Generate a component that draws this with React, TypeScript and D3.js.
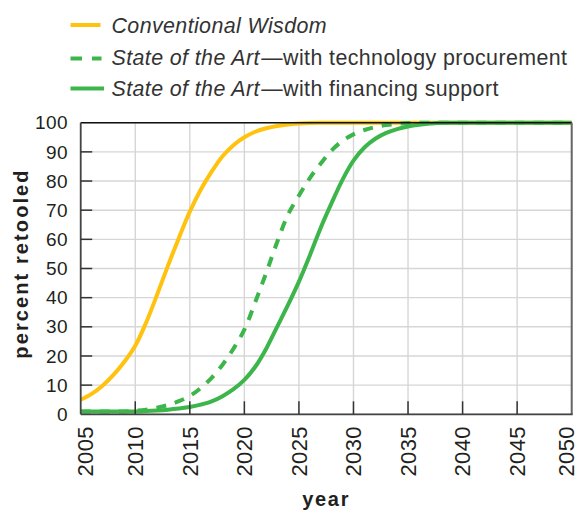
import React from "react";
import * as d3 from "d3";

const years = [
  2005, 2006, 2007, 2008, 2009, 2010, 2011, 2012, 2013, 2014, 2015, 2016, 2017,
  2018, 2019, 2020, 2021, 2022, 2023, 2024, 2025, 2026, 2027, 2028, 2029, 2030,
  2031, 2032, 2033, 2034, 2035, 2036, 2037, 2038, 2039, 2040, 2045, 2050,
];

const conventionalWisdom = [
  5, 7, 9.8, 13.5, 18, 23.5, 31.5, 41, 51, 60.5, 69.5, 77, 83.2, 88.5, 92.3, 95,
  96.9, 98.1, 98.9, 99.4, 99.7, 99.9, 100, 100, 100, 100, 100, 100, 100, 100, 100,
  100, 100, 100, 100, 100, 100, 100,
];

const techProcurement = [
  1, 1, 1, 1, 1, 1.2, 1.6, 2.3, 3.2, 4.5, 6.3, 9, 12.5, 17, 22.5, 29, 38.5, 48.5,
  59, 68.5, 75, 81, 86, 90.5, 93.8, 96, 97.5, 98.5, 99.2, 99.6, 99.9, 100, 100,
  100, 100, 100, 100, 100,
];

const financingSupport = [
  1, 1, 1, 1, 1, 1, 1.1, 1.3, 1.6, 2, 2.5, 3.3, 4.4, 6.2, 8.6, 11.8, 16.3, 22.5,
  30, 37.5, 45.5, 54.5, 64, 72.5, 80.5, 87, 91.5, 94.5, 96.5, 97.8, 98.7, 99.3,
  99.7, 100, 100, 100, 100, 100,
];

const xTicks = [2005, 2010, 2015, 2020, 2025, 2030, 2035, 2040, 2045, 2050];
const yTicks = [0, 10, 20, 30, 40, 50, 60, 70, 80, 90, 100];

const YELLOW = "#FFC20E";
const GREEN = "#3CB54A";
const TEXT = "#231f20";
const GRID = "#d6d6d6";
const FONT = "'Liberation Sans', Arial, Helvetica, sans-serif";

export default function App() {
  const W = 579;
  const H = 513;
  const left = 80.7;
  const right = 571.7;
  const top = 122.7;
  const bottom = 414.3;

  const x = d3.scaleLinear().domain([2005, 2050]).range([left, right]);
  const y = d3.scaleLinear().domain([0, 100]).range([bottom, top]);

  const line = d3
    .line<number>()
    .x((_, i) => x(years[i]))
    .y((d) => y(d))
    .curve(d3.curveCatmullRom.alpha(0.5));

  const legendRows = [
    { italic: "Conventional Wisdom", rest: "", color: YELLOW, dash: null as string | null, len: 30 },
    { italic: "State of the Art", rest: "\u2014with technology procurement", color: GREEN, dash: "11.5 10", len: 31 },
    { italic: "State of the Art", rest: "\u2014with financing support", color: GREEN, dash: null, len: 33.5 },
  ];
  const legendY = [25, 58.5, 88.5];
  const legendBase = [32.8, 64.8, 96.3];

  return (
    <svg
      width={W}
      height={H}
      style={{ position: "absolute", left: 0, top: 0, display: "block", background: "#fff" }}
      fontFamily={FONT}
    >
      {/* legend */}
      {legendRows.map((r, i) => (
        <g key={i}>
          <line
            x1={70.5}
            x2={70.5 + r.len}
            y1={legendY[i]}
            y2={legendY[i]}
            stroke={r.color}
            strokeWidth={4}
            strokeDasharray={r.dash ?? undefined}
          />
          <text x={111.5} y={legendBase[i]} fontSize={21.4} fill="#333" letterSpacing={0.4}>
            <tspan fontStyle="italic">{r.italic}</tspan>
            {r.rest && <tspan dx={1.5}>{r.rest}</tspan>}
          </text>
        </g>
      ))}

      {/* grid */}
      {yTicks.map((t) => (
        <line key={"gy" + t} x1={left} x2={right} y1={y(t)} y2={y(t)} stroke={GRID} strokeWidth={1.4} />
      ))}
      {xTicks.map((t) => (
        <line key={"gx" + t} x1={x(t)} x2={x(t)} y1={top} y2={bottom} stroke={GRID} strokeWidth={1.4} />
      ))}

      {/* curves */}
      <path d={line(conventionalWisdom) ?? ""} fill="none" stroke={YELLOW} strokeWidth={4} />
      <path d={line(techProcurement) ?? ""} fill="none" stroke={GREEN} strokeWidth={4} strokeDasharray="10 9" />
      <path d={line(financingSupport) ?? ""} fill="none" stroke={GREEN} strokeWidth={4} />

      {/* frame */}
      <line x1={left} x2={right} y1={top} y2={top} stroke="#111" strokeWidth={1.6} />
      <line x1={right} x2={right} y1={top} y2={bottom} stroke="#666" strokeWidth={2} />
      <line x1={left} x2={left} y1={top} y2={bottom} stroke="#444" strokeWidth={1.8} />
      <line x1={left} x2={right + 1} y1={bottom} y2={bottom} stroke="#444" strokeWidth={1.8} />

      {/* ticks */}
      {yTicks.slice(1, -1).map((t) => (
        <line key={"ty" + t} x1={left} x2={left + 11.5} y1={y(t)} y2={y(t)} stroke="#333" strokeWidth={1.5} />
      ))}
      {xTicks.slice(1, -1).map((t) => (
        <line key={"tx" + t} x1={x(t)} x2={x(t)} y1={bottom} y2={bottom - 13} stroke="#333" strokeWidth={1.5} />
      ))}

      {/* y tick labels */}
      {yTicks.map((t) => (
        <text
          key={"ly" + t}
          x={68}
          y={y(t)}
          dy="0.35em"
          textAnchor="end"
          fontSize={19}
          fill={TEXT}
          letterSpacing={0.4}
        >
          {t}
        </text>
      ))}

      {/* x tick labels */}
      {xTicks.map((t) => (
        <text
          key={"lx" + t}
          transform={`translate(${Math.min(Math.max(x(t), left + 4.6), 566)},426) rotate(-90)`}
          dy="0.35em"
          textAnchor="end"
          fontSize={22}
          fill={TEXT}
          letterSpacing={0.4}
        >
          {t}
        </text>
      ))}

      {/* axis titles */}
      <text
        transform={`translate(28.3,${(top + bottom) / 2 - 5}) rotate(-90)`}
        textAnchor="middle"
        fontSize={20}
        fontWeight="bold"
        fill={TEXT}
        letterSpacing={2.1}
      >
        percent retooled
      </text>
      <text
        x={(left + right) / 2}
        y={506}
        textAnchor="middle"
        fontSize={20}
        fontWeight="bold"
        fill={TEXT}
        letterSpacing={1.7}
      >
        year
      </text>
    </svg>
  );
}
